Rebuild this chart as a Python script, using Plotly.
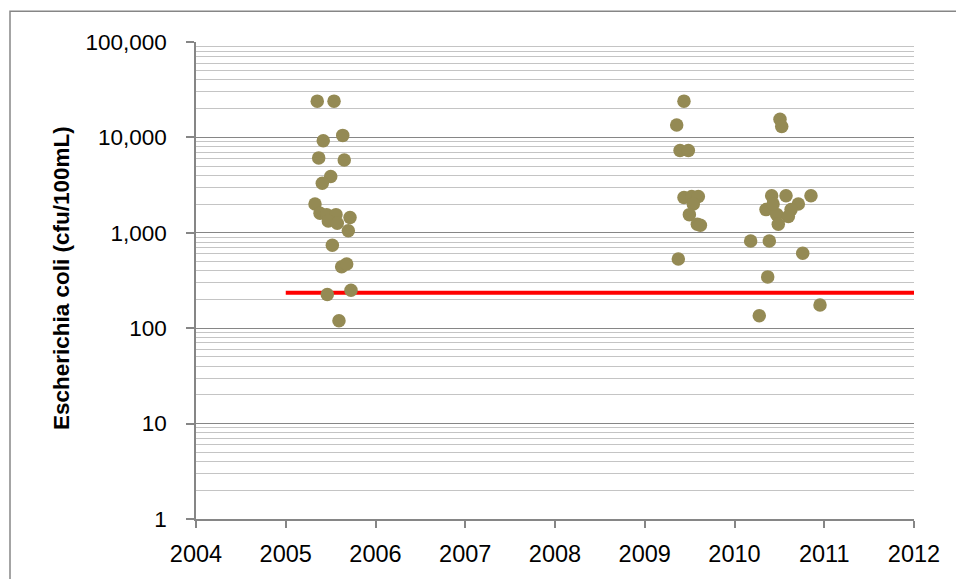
import plotly.graph_objects as go

# ---- data (decimal year, E. coli cfu/100mL) ----
x_2005 = [2005.351, 2005.538, 2005.418, 2005.635, 2005.367, 2005.652, 2005.501,
          2005.407, 2005.326, 2005.382, 2005.456, 2005.560, 2005.474, 2005.574,
          2005.716, 2005.697, 2005.519, 2005.623, 2005.679, 2005.463, 2005.727,
          2005.593]
y_2005 = [24000, 24000, 9200, 10500, 6100, 5800, 3900,
          3300, 2000, 1600, 1550, 1550, 1330, 1260,
          1450, 1050, 740, 440, 470, 225, 250,
          120]

x_2009 = [2009.437, 2009.356, 2009.393, 2009.486, 2009.437, 2009.523, 2009.597,
          2009.541, 2009.497, 2009.586, 2009.620, 2009.374]
y_2009 = [24000, 13500, 7300, 7300, 2350, 2400, 2400,
          2000, 1550, 1230, 1200, 530]

x_2010 = [2010.507, 2010.526, 2010.414, 2010.574, 2010.852, 2010.711, 2010.351,
          2010.630, 2010.470, 2010.600, 2010.488, 2010.180, 2010.388, 2010.760,
          2010.370, 2010.276, 2010.953, 2010.430]
y_2010 = [15500, 13000, 2450, 2450, 2450, 2000, 1750,
          1750, 1560, 1480, 1230, 820, 820, 610,
          345, 135, 175, 2000]

limit_x = [2005, 2012]
limit_y = [235, 235]

x_ticks = list(range(2004, 2013))
y_ticks = [1, 10, 100, 1000, 10000, 100000]
y_tick_text = ["1", "10", "100", "1,000", "10,000", "100,000"]

marker_color = "#948A54"

fig = go.Figure()
fig.add_trace(go.Scatter(x=limit_x, y=limit_y, mode="lines",
                         line=dict(color="#FF0000", width=4),
                         showlegend=False, hoverinfo="skip"))
for xs, ys in [(x_2005, y_2005), (x_2009, y_2009), (x_2010, y_2010)]:
    fig.add_trace(go.Scatter(x=xs, y=ys, mode="markers",
                             marker=dict(color=marker_color, size=13.5, line=dict(width=0)),
                             showlegend=False))

L, R, T, B = 196, 42, 42, 58
W, H = 956, 579
pw, ph = W - L - R, H - T - B

fig.update_layout(
    width=W, height=H,
    margin=dict(l=L, r=R, t=T, b=B, pad=0),
    paper_bgcolor="white", plot_bgcolor="white",
    font=dict(family="Liberation Sans, Arial, sans-serif", color="black"),
    xaxis=dict(
        range=[2004, 2012], tickvals=x_ticks, ticktext=[str(v) for v in x_ticks],
        showgrid=False, zeroline=False,
        showline=True, linecolor="#868686", linewidth=1.5,
        ticks="outside", ticklen=7, tickcolor="#868686", tickwidth=1.5,
        ticklabelstandoff=6,
        tickfont=dict(size=23.5, color="black"),
    ),
    yaxis=dict(
        type="log", range=[0, 5], tickvals=y_ticks, ticktext=y_tick_text,
        showgrid=True, gridcolor="#868686", gridwidth=1.3,
        zeroline=False,
        showline=True, linecolor="#868686", linewidth=1.5,
        ticks="outside", ticklen=8, tickcolor="#868686", tickwidth=1.5,
        ticklabelstandoff=15,
        tickfont=dict(size=22.5, color="black"),
        minor=dict(dtick="D1", showgrid=True, gridcolor="#C4C4C4", gridwidth=1.3, ticks=""),
    ),
    annotations=[dict(
        text="<b>Escherichia coli (cfu/100mL)</b>", textangle=-90,
        xref="paper", yref="paper",
        x=(61 - L) / pw, y=(H - B - 279) / ph,
        xanchor="center", yanchor="middle", showarrow=False,
        font=dict(size=22.5, color="black"),
    )],
    shapes=[dict(
        type="rect", xref="paper", yref="paper",
        x0=(10 - L) / pw, x1=(W + 20 - L) / pw,
        y0=(H - B - (H + 20)) / ph, y1=(H - B - 11) / ph,
        line=dict(color="#868686", width=1.5), fillcolor="rgba(0,0,0,0)",
        layer="below",
    )],
)

fig.write_html("out.html", config={"displayModeBar": False},
               post_script="document.body.style.margin='0';document.body.style.padding='0';")
